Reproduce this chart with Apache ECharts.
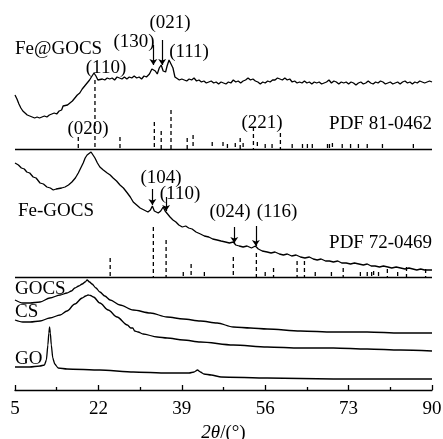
<!DOCTYPE html>
<html>
<head>
<meta charset="utf-8">
<script src="https://cdn.jsdelivr.net/npm/echarts@6/dist/echarts.min.js"></script>
<style>
  html, body { margin: 0; padding: 0; background: #fff; }
  #图表 { width: 443px; height: 439px; }
</style>
</head>
<body>
<div id="图表"></div>
<script>
// 横轴 2θ 刻度
const 横轴刻度 = [5, 22, 39, 56, 73, 90];

// 各样品 XRD 曲线 [2θ, 强度(a.u.)]
const FeAtGOCS = [
  [5.0, 40], [5.4, 36], [5.8, 31], [6.2, 27], [6.6, 24], [7.0, 22], [7.5, 20], [8.0, 19], [8.5, 18],
  [9.0, 17], [9.5, 18], [10.0, 17], [10.5, 18], [11.0, 19], [11.5, 18], [12.0, 20], [12.5, 21],
  [13.0, 22], [13.5, 21], [14.0, 24], [14.5, 25], [14.8, 29], [15.2, 27], [15.7, 30], [16.2, 32],
  [16.7, 34], [17.2, 37], [17.7, 40], [18.2, 42], [18.7, 46], [19.2, 49], [19.7, 52], [20.2, 55],
  [20.7, 59], [21.1, 62], [21.5, 59], [21.9, 55], [22.3, 54], [22.8, 56], [23.3, 55], [23.8, 57],
  [24.3, 56], [24.8, 57], [25.3, 55], [25.8, 58], [26.3, 57], [26.8, 56], [27.3, 58], [27.8, 56],
  [28.3, 58], [28.8, 57], [29.3, 59], [29.8, 57], [30.3, 58], [30.8, 56], [31.3, 59], [31.8, 58],
  [32.4, 61], [32.9, 66], [33.2, 68], [33.6, 64], [34.0, 61], [34.4, 67], [34.8, 70], [35.2, 64],
  [35.7, 63], [36.0, 69], [36.4, 75], [36.8, 75], [37.2, 67], [37.6, 58], [38.0, 56], [38.5, 55],
  [39.0, 56], [39.5, 55], [40.0, 54], [40.5, 56], [41.0, 55], [41.5, 57], [42.0, 54], [42.5, 55],
  [43.0, 53], [43.5, 54], [44.0, 52], [44.5, 53], [45.0, 54], [45.5, 52], [46.0, 53], [46.5, 51],
  [47.0, 53], [47.5, 52], [48.0, 51], [48.5, 53], [49.0, 52], [49.5, 55], [50.0, 53], [50.5, 54],
  [51.0, 52], [51.5, 54], [52.0, 55], [52.5, 57], [53.0, 55], [53.5, 56], [54.0, 54], [54.5, 53],
  [55.0, 51], [55.5, 53], [56.0, 52], [56.5, 54], [57.0, 53], [57.5, 55], [58.0, 55], [58.5, 57],
  [59.0, 56], [59.5, 55], [60.0, 57], [60.5, 55], [61.0, 56], [61.5, 53], [62.0, 54], [62.5, 52],
  [63.0, 53], [63.5, 52], [64.0, 54], [64.5, 52], [65.0, 53], [65.5, 51], [66.0, 53], [66.5, 52],
  [67.0, 53], [67.5, 51], [68.0, 52], [68.5, 53], [69.0, 55], [69.5, 52], [70.0, 54], [70.5, 53],
  [71.0, 51], [71.5, 53], [72.0, 52], [72.5, 53], [73.0, 51], [73.5, 53], [74.0, 52], [74.5, 50],
  [75.0, 52], [75.5, 53], [76.0, 51], [76.5, 52], [77.0, 54], [77.5, 52], [78.0, 51], [78.5, 53],
  [79.0, 52], [79.5, 54], [80.0, 53], [80.5, 51], [81.0, 52], [81.5, 53], [82.0, 51], [82.5, 52],
  [83.0, 53], [83.5, 51], [84.0, 53], [84.5, 54], [85.0, 52], [85.5, 53], [86.0, 51], [86.5, 53],
  [87.0, 52], [87.5, 54], [88.0, 53], [88.5, 52], [89.0, 53], [89.5, 54], [90.0, 53]
];
const FeGOCS = [
  [5.0, 117], [5.7, 115], [6.3, 112], [6.9, 111], [7.4, 108], [8.0, 107], [8.7, 103], [9.3, 102],
  [10.1, 97], [10.8, 96], [11.5, 93], [12.2, 92], [12.8, 90], [13.4, 91], [13.8, 90], [14.5, 92],
  [15.2, 93], [15.9, 95], [16.6, 98], [17.3, 102], [17.9, 107], [18.4, 112], [18.9, 117], [19.3, 122],
  [19.7, 125], [20.1, 127], [20.5, 128], [20.9, 125], [21.3, 122], [21.8, 117], [22.3, 113],
  [23.0, 110], [23.8, 107], [24.4, 105], [25.0, 102], [25.7, 99], [26.4, 95], [27.1, 92], [27.9, 87],
  [28.5, 83], [29.1, 78], [29.8, 75], [30.5, 72], [31.3, 70], [32.1, 68], [32.6, 70], [33.0, 74],
  [33.4, 69], [33.8, 67], [34.2, 67], [34.7, 69], [35.2, 73], [35.6, 69], [36.0, 67], [36.6, 63],
  [37.2, 60], [37.8, 58], [38.4, 55], [39.1, 53], [39.8, 54], [40.4, 52], [41.1, 51], [41.9, 48],
  [42.8, 46], [43.6, 44], [44.5, 43], [45.3, 41], [46.2, 40], [47.0, 39], [47.9, 38], [48.7, 37],
  [49.5, 38], [50.0, 35], [50.7, 34], [51.5, 33], [52.3, 34], [53.2, 32], [54.0, 34], [54.6, 31],
  [55.4, 29], [56.4, 28], [57.2, 27], [58.0, 28], [58.9, 26], [59.7, 25], [60.5, 26], [61.4, 24],
  [62.3, 25], [63.2, 23], [64.1, 22], [65.0, 23], [65.8, 21], [66.6, 20], [67.4, 21], [68.3, 19],
  [69.1, 19], [69.9, 18], [70.8, 19], [71.6, 17], [72.5, 17], [73.4, 16], [74.2, 17], [75.1, 16],
  [76.0, 15], [76.8, 16], [77.6, 14], [78.4, 14], [79.3, 13], [80.1, 14], [81.0, 13], [81.8, 12],
  [82.7, 13], [83.6, 12], [84.5, 11], [85.3, 12], [86.1, 11], [86.9, 10], [87.7, 11], [88.5, 10],
  [89.3, 10], [90.0, 10]
];
const GOCS = [
  [5.0, 35], [6.6, 32], [8.1, 32], [10.1, 33], [12.1, 37], [14.2, 40], [15.6, 42], [16.5, 44],
  [17.2, 47], [18.0, 49], [18.7, 51], [19.3, 53], [19.7, 55], [20.2, 53], [20.7, 51], [21.5, 47],
  [22.3, 43], [23.3, 39], [24.4, 35], [26.4, 30], [29.1, 25], [32.6, 22], [36.0, 18], [39.3, 16],
  [42.8, 14], [46.2, 12], [49.5, 8], [53.0, 7], [56.4, 6], [63.2, 4], [69.9, 3], [76.8, 3],
  [83.6, 2], [90.0, 2]
];
const CS = [
  [5.0, 35], [6.6, 33], [8.1, 33], [10.1, 34], [12.1, 37], [14.2, 40], [15.6, 44], [17.2, 51],
  [18.7, 57], [19.4, 59], [19.9, 60], [20.4, 59.5], [21.0, 58], [22.3, 52], [24.0, 45], [25.8, 38],
  [27.9, 30], [28.6, 27], [29.0, 27], [29.4, 24], [30.1, 23], [31.1, 21], [34.0, 18], [36.0, 17],
  [39.3, 15], [42.8, 13], [49.5, 10], [56.4, 8], [63.2, 7], [69.9, 7], [76.8, 6], [83.6, 5],
  [90.0, 4]
];
const GO = [
  [5.0, 13], [8.0, 13], [10.1, 14], [11.0, 15], [11.4, 20], [11.7, 35], [11.9, 47], [12.05, 53],
  [12.2, 47], [12.4, 35], [12.7, 22], [13.1, 16], [13.8, 12], [15.6, 11], [22.3, 10], [29.1, 8],
  [36.0, 7], [40.5, 7], [41.5, 8], [42.2, 10], [42.8, 8], [43.5, 6], [45.0, 5], [47.0, 3],
  [56.4, 2], [69.9, 1], [90.0, 1]
];

// 曲线垂直偏移
const 偏移_FeAtGOCS = 255;
const 偏移_FeGOCS = 110;
const 偏移_GOCS = 55;
const 偏移_CS = 35;
const 偏移_GO = 10;
const 偏移_PDF81 = 241;
const 偏移_PDF72 = 113;

// 标准卡片 [2θ, 相对强度]
const PDF81_0462 = [
  [17.9, 12], [21.3, 69], [26.4, 12], [33.4, 27], [34.8, 18], [36.8, 39], [40.1, 11], [41.3, 14],
  [45.2, 7], [47.4, 7], [48.3, 5], [49.9, 6], [50.9, 11], [51.5, 6], [53.6, 22], [54.4, 7],
  [56.0, 5], [57.4, 5], [59.1, 16], [61.5, 5], [63.6, 5], [64.6, 5], [65.6, 5], [68.7, 5],
  [69.1, 5], [69.7, 6], [71.7, 5], [73.4, 5], [75.0, 5], [76.8, 5], [79.9, 5], [86.2, 5]
];
const PDF72_0469 = [
  [24.4, 19], [33.2, 50], [35.8, 37], [39.3, 5], [40.9, 13], [43.6, 5], [49.5, 20], [54.2, 24],
  [56.0, 5], [57.7, 9], [62.5, 16], [64.0, 16], [66.2, 5], [69.5, 5], [71.9, 9], [75.4, 5],
  [76.8, 5], [77.7, 5], [78.1, 6], [79.1, 5], [80.9, 8], [83.0, 5], [84.8, 10], [88.7, 8]
];

// 峰位箭头 [2θ, 起点强度, 终点强度]
const 箭头_FeAtGOCS = [[33.2, 90, 70], [35.0, 95, 70]];
const 箭头_FeGOCS = [[33.0, 91, 75], [35.8, 83, 69], [49.7, 53, 37], [54.1, 54, 34]];

const 字体 = "'Times New Roman', 'Liberation Serif', serif";
const 黑 = "#000";

function 曲线(数据, 偏移, 平滑, 箭头) {
  const s = {
    type: "line",
    data: 数据.map(([x, y]) => [x, y + 偏移]),
    symbol: "none",
    smooth: 平滑,
    smoothMonotone: "x",
    lineStyle: { color: 黑, width: 1.3 },
    silent: true,
  };
  if (箭头) {
    s.markLine = {
      silent: true,
      symbol: ["none", "arrow"],
      symbolSize: 6,
      label: { show: false },
      lineStyle: { color: 黑, width: 1.2, type: "solid" },
      data: 箭头.map(([x, a, b]) => [{ coord: [x, a + 偏移] }, { coord: [x, b + 偏移] }]),
    };
  }
  return s;
}

function 标准卡片(数据, 偏移) {
  return {
    type: "custom",
    silent: true,
    data: 数据,
    renderItem: (params, api) => {
      const x = api.value(0);
      const h = api.value(1);
      const 上 = api.coord([x, 偏移 + h]);
      const 下 = api.coord([x, 偏移]);
      return {
        type: "line",
        shape: { x1: 上[0], y1: 上[1], x2: 下[0], y2: 下[1] },
        style: { stroke: 黑, lineWidth: 1.3, lineDash: [4, 3] },
      };
    },
    markLine: {
      silent: true,
      symbol: "none",
      label: { show: false },
      lineStyle: { color: 黑, width: 1.3, type: "solid" },
      data: [{ yAxis: 偏移 }],
    },
  };
}

function 文字(text, x, y, align) {
  return {
    type: "text",
    x: x,
    y: y,
    style: {
      text: text,
      fill: 黑,
      font: "19px " + 字体,
      textAlign: align || "center",
      textVerticalAlign: "middle",
    },
  };
}

const myChart = echarts.init(document.getElementById("图表"));

const option = {
  animation: false,
  backgroundColor: "#fff",
  grid: { left: 15, right: 11, top: 0, bottom: 49, outerBoundsMode: "none", containLabel: false },
  xAxis: {
    type: "value",
    min: 横轴刻度[0],
    max: 横轴刻度[横轴刻度.length - 1],
    interval: 横轴刻度[1] - 横轴刻度[0],
    name: "{i|2θ}{n|/(°)}",
    nameLocation: "middle",
    nameGap: 22,
    nameTextStyle: {
      rich: {
        i: { fontFamily: 字体, fontSize: 19, lineHeight: 19, fontStyle: "italic", color: 黑 },
        n: { fontFamily: 字体, fontSize: 19, lineHeight: 19, color: 黑 },
      },
    },
    axisLine: { lineStyle: { color: 黑, width: 1.3 } },
    axisTick: { inside: true, length: 5, lineStyle: { color: 黑, width: 1.3 } },
    minorTick: { show: true, splitNumber: 2, length: 3, lineStyle: { color: 黑, width: 1.3 } },
    axisLabel: { fontFamily: 字体, fontSize: 19, color: 黑, margin: 10 },
    splitLine: { show: false },
    minorSplitLine: { show: false },
  },
  yAxis: { type: "value", min: 0, max: 390, show: false },
  series: [
    曲线(FeAtGOCS, 偏移_FeAtGOCS, false, 箭头_FeAtGOCS),
    标准卡片(PDF81_0462, 偏移_PDF81),
    曲线(FeGOCS, 偏移_FeGOCS, false, 箭头_FeGOCS),
    标准卡片(PDF72_0469, 偏移_PDF72),
    曲线(GOCS, 偏移_GOCS, 0.3),
    曲线(CS, 偏移_CS, 0.3),
    曲线(GO, 偏移_GO, 0.2),
  ],
  graphic: [
    文字("Fe@GOCS", 15, 49, "left"),
    文字("(110)", 106, 68),
    文字("(130)", 134, 42),
    文字("(021)", 170, 23),
    文字("(111)", 189, 52),
    文字("(020)", 88, 129),
    文字("(221)", 262, 123),
    文字("PDF 81-0462", 432, 124, "right"),
    文字("Fe-GOCS", 18, 211, "left"),
    文字("(104)", 161, 178),
    文字("(110)", 180, 194),
    文字("(024)", 230, 212),
    文字("(116)", 277, 212),
    文字("PDF 72-0469", 432, 243, "right"),
    文字("GOCS", 15, 289, "left"),
    文字("CS", 15, 312, "left"),
    文字("GO", 15, 359, "left"),
  ],
};

myChart.setOption(option);
</script>
</body>
</html>
